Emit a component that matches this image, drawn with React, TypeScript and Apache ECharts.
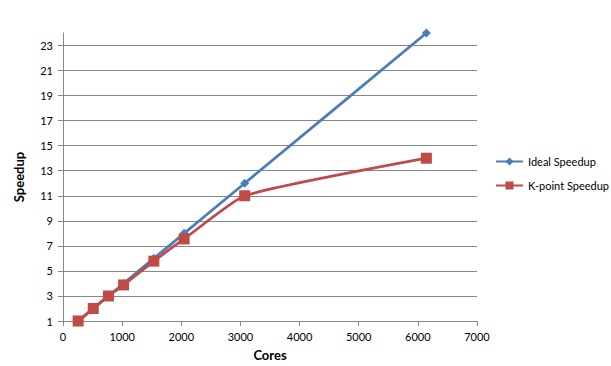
import React, { useEffect, useRef } from "react";
import * as echarts from "echarts";

const cores = [256, 512, 768, 1024, 1536, 2048, 3072, 6144];
const idealSpeedup = [1, 2, 3, 4, 6, 8, 12, 24];
const kpointSpeedup = [1, 2, 3, 3.88, 5.78, 7.55, 11, 14];
const seriesNames = ["Ideal Speedup", "K-point Speedup"];

const FONT = "Lato, 'Noto Sans', sans-serif";

export default function App() {
  const ref = useRef<HTMLDivElement>(null);
  useEffect(() => {
    const chart = echarts.init(ref.current!, undefined, { renderer: "svg" });
    const gridColors = Array.from({ length: 13 }, (_, i) => (i === 12 ? "rgba(0,0,0,0)" : "#888888"));
    chart.setOption({
      animation: false,
      backgroundColor: "#ffffff",
      grid: { left: 63, right: 134, top: 33, bottom: 42 },
      legend: {
        orient: "vertical",
        left: 490,
        top: 151,
        itemWidth: 27,
        itemHeight: 10,
        itemGap: 13,
        textStyle: { fontFamily: FONT, fontSize: 11, color: "#000" },
        data: seriesNames,
      },
      xAxis: {
        type: "value",
        min: 0,
        max: 7000,
        interval: 1000,
        name: "Cores",
        nameLocation: "middle",
        nameGap: 27,
        nameTextStyle: { fontFamily: FONT, fontSize: 13, fontWeight: "bold", color: "#000" },
        axisLine: { show: true, lineStyle: { color: "#888888", width: 1 } },
        axisTick: { show: true, length: 5, lineStyle: { color: "#888888" } },
        axisLabel: { fontFamily: FONT, fontSize: 11, color: "#000", margin: 10, formatter: (v: number) => String(v) },
        splitLine: { show: false },
      },
      yAxis: {
        type: "value",
        min: 1,
        max: 24,
        interval: 2,
        name: "Speedup",
        nameLocation: "middle",
        nameGap: 38,
        nameTextStyle: { fontFamily: FONT, fontSize: 13, fontWeight: "bold", color: "#000" },
        axisLine: { show: true, lineStyle: { color: "#888888", width: 1 } },
        axisTick: { show: true, length: 5, lineStyle: { color: "#888888" } },
        axisLabel: { fontFamily: FONT, fontSize: 11, color: "#000", margin: 10, showMaxLabel: false },
        splitLine: { show: true, lineStyle: { color: gridColors, width: 1 } },
      },
      series: [
        {
          name: seriesNames[0],
          type: "line",
          smooth: 0.15,
          data: cores.map((c, i) => [c, idealSpeedup[i]]),
          symbol: "diamond",
          symbolSize: 9,
          lineStyle: { color: "#4A7EBB", width: 2.75 },
          itemStyle: { color: "#4A7EBB" },
          z: 2,
        },
        {
          name: seriesNames[1],
          type: "line",
          smooth: 0.15,
          data: cores.map((c, i) => [c, kpointSpeedup[i]]),
          symbol: "rect",
          symbolSize: 11,
          lineStyle: { color: "#BE4B48", width: 2.75 },
          itemStyle: { color: "#BE4B48" },
          z: 3,
        },
      ],
    });
    return () => chart.dispose();
  }, []);
  return (
    <div
      ref={ref}
      style={{ position: "fixed", left: 0, top: 0, width: 611, height: 366, background: "#fff" }}
    />
  );
}
